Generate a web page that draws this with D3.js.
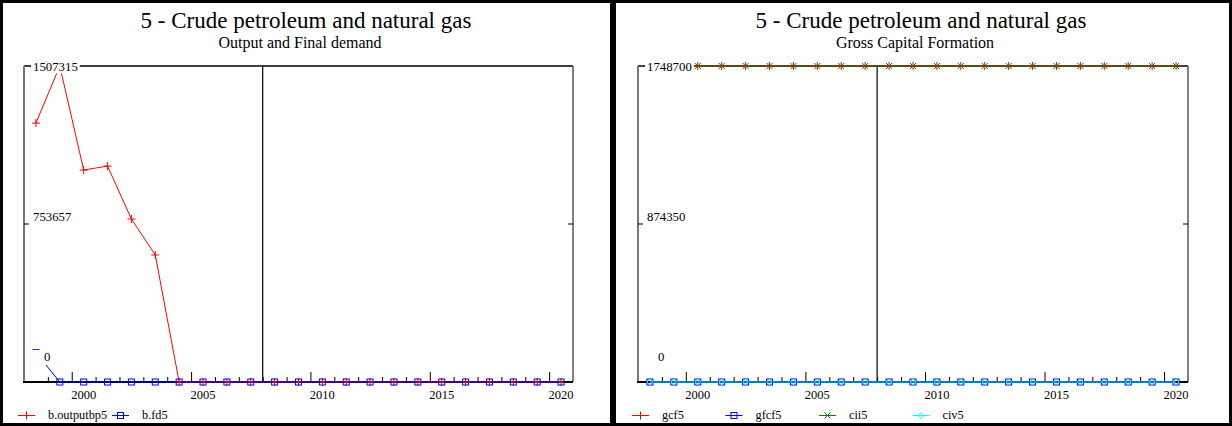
<!DOCTYPE html>
<html>
<head>
<meta charset="utf-8">
<script src="https://cdn.jsdelivr.net/npm/d3@7"></script>
<style>
  body { margin:0; background:#fff; }
</style>
</head>
<body>
<div id="canvas"></div>
<script>
// data
var years = [1998,1999,2000,2001,2002,2003,2004,2005,2006,2007,2008,2009,2010,2011,2012,2013,2014,2015,2016,2017,2018,2019,2020];
var yearLabels = [2000,2005,2010,2015,2020];

var outputbp5 = [1235000,1507315,1011000,1030000,777500,605800,0,0,0,0,0,0,0,0,0,0,0,0,0,0,0,0,0];
var fd5       = [140000,0,0,0,0,0,0,0,0,0,0,0,0,0,0,0,0,0,0,0,0,0,0];

var gcf5  = [1748700,1748700,1748700,1748700,1748700,1748700,1748700,1748700,1748700,1748700,1748700,1748700,1748700,1748700,1748700,1748700,1748700,1748700,1748700,1748700,1748700,1748700,1748700];
var gfcf5 = [0,0,0,0,0,0,0,0,0,0,0,0,0,0,0,0,0,0,0,0,0,0,0];
var cii5  = [1748700,1748700,1748700,1748700,1748700,1748700,1748700,1748700,1748700,1748700,1748700,1748700,1748700,1748700,1748700,1748700,1748700,1748700,1748700,1748700,1748700,1748700,1748700];
var civ5  = [0,0,0,0,0,0,0,0,0,0,0,0,0,0,0,0,0,0,0,0,0,0,0];

var leftTicks  = [0,753657,1507315];
var rightTicks = [0,874350,1748700];

var title = '5 - Crude petroleum and natural gas';
var FONT = "'Liberation Serif', 'Times New Roman', Times, serif";

var W = 1232, H = 426;
var svg = d3.select('#canvas').append('svg')
    .attr('width',W).attr('height',H)
    .attr('font-family',FONT);

// panel frames
svg.append('rect').attr('x',1.5).attr('y',1.5).attr('width',610).attr('height',423)
    .attr('fill','none').attr('stroke','#000').attr('stroke-width',3);
svg.append('rect').attr('x',614.5).attr('y',1.5).attr('width',616).attr('height',423)
    .attr('fill','none').attr('stroke','#000').attr('stroke-width',3);

var markers = {
  plus:    function(s){ s.append('path').attr('d','M-4,0H4M0,-4V4').attr('fill','none'); },
  square:  function(s){ s.append('rect').attr('x',-3).attr('y',-3).attr('width',6).attr('height',6).attr('fill','none'); },
  cross:   function(s){ s.append('path').attr('d','M-3,-3L3,3M-3,3L3,-3').attr('fill','none'); },
  diamond: function(s){ s.append('path').attr('d','M0,-3L3,0L0,3L-3,0Z').attr('fill','none'); }
};

function txt(g, x, y, s, size){
  return g.append('text').attr('x',x).attr('y',y).attr('font-size',size)
    .attr('font-family',FONT).attr('fill','#000').text(s);
}

function labelBox(g, x, y, s, size){
  var t = txt(g, x, y, s, size);
  var b = t.node().getBBox();
  g.insert('rect', function(){ return t.node(); })
    .attr('x',b.x-2).attr('y',b.y).attr('width',b.width+4).attr('height',b.height)
    .attr('fill','#fff');
  return t;
}

function drawPanel(p){
  var g = svg.append('g');

  txt(g, p.cx, 28, title, 23).attr('text-anchor','middle');
  txt(g, p.cx - 6, 47.5, p.sub, 16).attr('text-anchor','middle');

  var x = d3.scaleLinear().domain([1997.5,2020.5]).range([p.x0,p.x1]);
  var y = d3.scaleLinear().domain([0,p.ticks[2]]).range([382,66]);

  // frame of plot
  g.append('line').attr('x1',p.x0).attr('x2',p.x1).attr('y1',y(p.ticks[2])).attr('y2',y(p.ticks[2]))
    .attr('stroke','#000').attr('stroke-width',1.3);
  g.append('line').attr('x1',p.x0).attr('x2',p.x0).attr('y1',66).attr('y2',382)
    .attr('stroke','#777').attr('stroke-width',2);
  g.append('line').attr('x1',p.x1).attr('x2',p.x1).attr('y1',66).attr('y2',382)
    .attr('stroke','#555').attr('stroke-width',1.5);
  g.append('line').attr('x1',x(2007.5)).attr('x2',x(2007.5)).attr('y1',66).attr('y2',382)
    .attr('stroke','#000').attr('stroke-width',1.2);

  // mid y ticks
  g.append('line').attr('x1',p.x0).attr('x2',p.x0+5).attr('y1',y(p.ticks[1])).attr('y2',y(p.ticks[1]))
    .attr('stroke','#000');
  g.append('line').attr('x1',p.x1-5).attr('x2',p.x1).attr('y1',y(p.ticks[1])).attr('y2',y(p.ticks[1]))
    .attr('stroke','#000');

  // x axis with ticks between years
  var tickVals = [];
  for (var i = 0; i < years.length - 1; i++) tickVals.push(years[i] + 0.5);
  var axis = d3.axisTop(x).tickValues(tickVals)
    .tickSize(0).tickFormat('');
  var ax = g.append('g').attr('transform','translate(0,382)').call(axis);
  ax.select('.domain').remove();
  ax.selectAll('.tick line').attr('stroke','#000')
    .attr('y2', function(d){ return ((d - 0.5) % 5 === 4) ? -10 : -5; });
  g.append('line').attr('x1',p.x0-1).attr('x2',p.x1).attr('y1',382).attr('y2',382)
    .attr('stroke','#000').attr('stroke-width',2);

  yearLabels.forEach(function(d){
    txt(g, x(d), 399, d, 12.5).attr('text-anchor','middle');
  });

  // series
  var line = d3.line().x(function(d,i){ return x(years[i]); }).y(function(d){ return y(d); });
  p.series.forEach(function(s){
    g.append('path').datum(s.values).attr('d',line)
      .attr('fill','none').attr('stroke',s.color).attr('stroke-width',1);
  });
  p.series.forEach(function(s){
    g.selectAll(null).data(s.values).enter().append('g')
      .attr('transform',function(d,i){ return 'translate(' + x(years[i]) + ',' + y(d) + ')'; })
      .attr('stroke',s.color).attr('stroke-width',1)
      .each(function(){ markers[s.marker](d3.select(this)); });
  });

  // y labels over everything
  labelBox(g, p.x0+9, y(p.ticks[2])+4.5, d3.format('d')(p.ticks[2]), 12.8);
  labelBox(g, p.x0+9, y(p.ticks[1])-3, d3.format('d')(p.ticks[1]), 12.8);
  g.append('rect').attr('x',p.x0+8).attr('y',y(0)-32).attr('width',24).attr('height',15).attr('fill','#fff');
  txt(g, p.x0+20, y(0)-21, '0', 12.8);

  // legend
  p.series.forEach(function(s,i){
    var lx = p.legX + i*p.legStep;
    var lg = g.append('g');
    lg.append('line').attr('x1',lx).attr('x2',lx+17).attr('y1',415.5).attr('y2',415.5)
      .attr('stroke',s.color);
    lg.append('g').attr('transform','translate(' + (lx+8.5) + ',415.5)')
      .attr('stroke',s.color).each(function(){ markers[s.marker](d3.select(this)); });
    txt(lg, lx+30, 418.5, s.name, 12.3);
  });
}

drawPanel({
  cx:306, sub:'Output and Final demand', x0:24, x1:573, ticks:leftTicks,
  legX:18, legStep:94,
  series:[
    {name:'b.outputbp5', values:outputbp5, color:'#ff0000', marker:'plus'},
    {name:'b.fd5',       values:fd5,       color:'#0000ff', marker:'square'}
  ]
});

drawPanel({
  cx:921, sub:'Gross Capital Formation', x0:638, x1:1188, ticks:rightTicks,
  legX:632, legStep:93.5,
  series:[
    {name:'gcf5',  values:gcf5,  color:'#ff0000', marker:'plus'},
    {name:'gfcf5', values:gfcf5, color:'#0000ff', marker:'square'},
    {name:'cii5',  values:cii5,  color:'#008000', marker:'cross'},
    {name:'civ5',  values:civ5,  color:'#00ffff', marker:'diamond'}
  ]
});
</script>
</body>
</html>
